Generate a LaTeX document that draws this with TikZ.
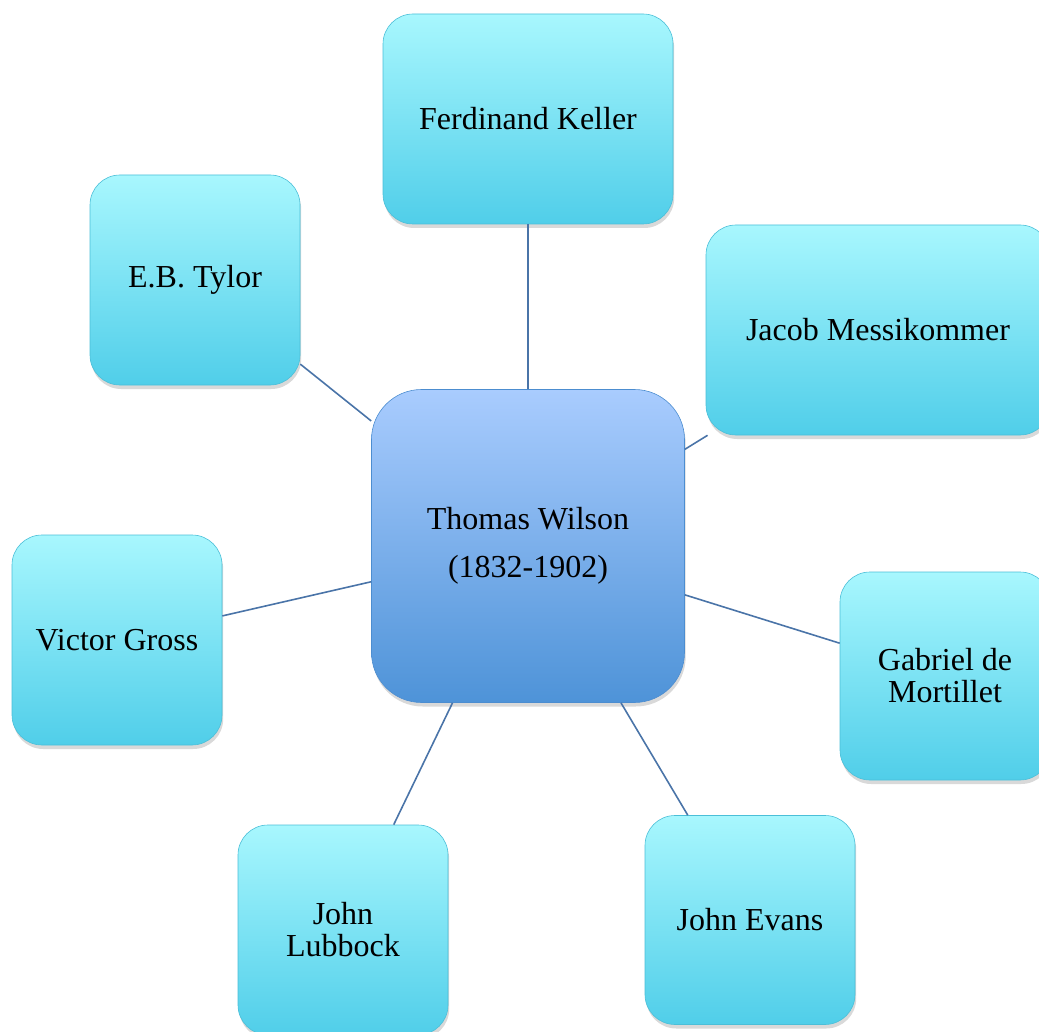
\documentclass[tikz,border=0pt]{standalone}
\usepackage{fontspec}
\setmainfont{Liberation Serif}
\usetikzlibrary{shadows}
\definecolor{cyantop}{HTML}{A8F7FE}
\definecolor{cyanbot}{HTML}{50CEE9}
\definecolor{cyanedge}{HTML}{4BBFD8}
\definecolor{bluetop}{HTML}{A9CCFE}
\definecolor{bluebot}{HTML}{4E93D8}
\definecolor{blueedge}{HTML}{4C8DD0}
\definecolor{linkcol}{HTML}{4A74A8}
\tikzset{
  person/.style={rectangle, rounded corners=15pt, top color=cyantop, bottom color=cyanbot,
    draw=cyanedge, line width=0.3pt, font=\fontsize{16pt}{16pt}\selectfont, align=center,
    minimum width=105pt, minimum height=105pt, inner sep=0pt,
    drop shadow={opacity=0.3, shadow xshift=0.6pt, shadow yshift=-2pt}},
  hub/.style={rectangle, rounded corners=25pt, top color=bluetop, bottom color=bluebot,
    draw=blueedge, line width=0.3pt, font=\fontsize{16pt}{24pt}\selectfont, align=center,
    minimum width=156.5pt, minimum height=156.5pt, inner sep=0pt,
    drop shadow={opacity=0.3, shadow xshift=0.6pt, shadow yshift=-2pt}},
  link/.style={draw=linkcol, line width=0.8pt}
}
\begin{document}
\begin{tikzpicture}[x=0.5pt, y=-0.5pt]
\useasboundingbox (0,0) rectangle (1039,1032);
\clip (0,0) rectangle (1039,1032);
\node[hub] (wilson) at (528,546) {Thomas Wilson\\(1832-1902)};
\node[person, minimum width=145pt] (keller) at (528,119) {Ferdinand Keller};
\node[person] (tylor) at (195,280) {E.B. Tylor};
\node[person, minimum width=172pt] (messi) at (878,330) {Jacob Messikommer};
\node[person] (gross) at (117,640) {Victor Gross};
\node[person, minimum height=104pt] (mortillet) at (945,676) {Gabriel de\\Mortillet};
\node[person] (lubbock) at (343,930) {John\\Lubbock};
\node[person, minimum height=104.5pt] (evans) at (750,920) {John Evans};
\draw[link] (keller) -- (wilson);
\draw[link] (tylor) -- (wilson);
\draw[link] (messi) -- (wilson);
\draw[link] (gross) -- (wilson);
\draw[link] (mortillet) -- (wilson);
\draw[link] (lubbock) -- (wilson);
\draw[link] (evans) -- (wilson);
\end{tikzpicture}
\end{document}
